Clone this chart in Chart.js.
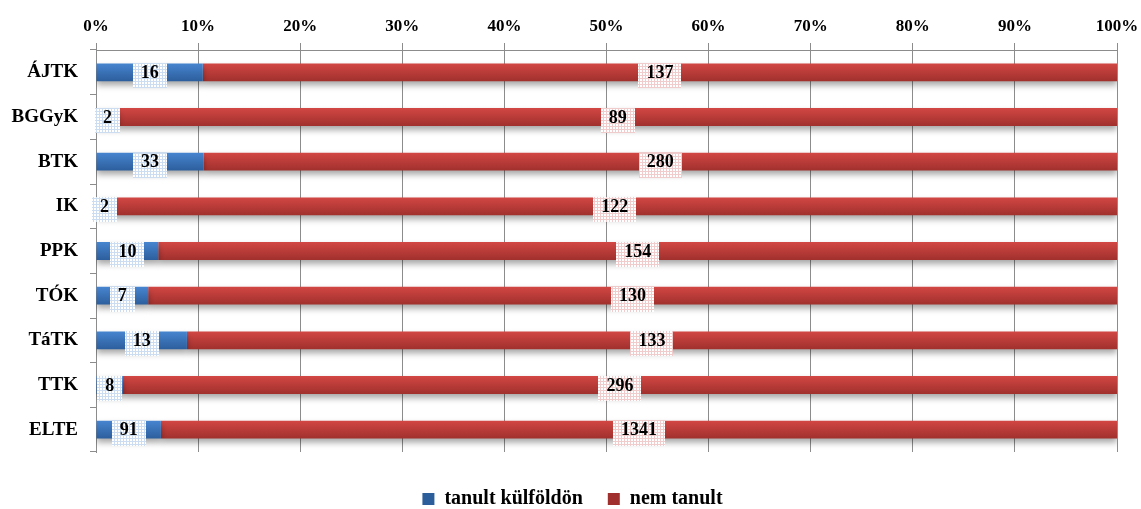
<!DOCTYPE html>
<html lang="hu">
<head>
    <meta charset="UTF-8">
    <title>Tanult külföldön</title>
    <style>
        body { margin: 0; background: #fff; }
        #wrap { width: 1141px; height: 509px; }
    </style>
</head>
<body>
    <div id="wrap"><canvas id="myCanvas"></canvas></div>
    <script src="https://cdn.jsdelivr.net/npm/chart.js@4/dist/chart.umd.min.js"></script>
    <script>
        const categories = ['ÁJTK', 'BGGyK', 'BTK', 'IK', 'PPK', 'TÓK', 'TáTK', 'TTK', 'ELTE'];
        const tanultKulfoldon = [16, 2, 33, 2, 10, 7, 13, 8, 91];
        const nemTanult = [137, 89, 280, 122, 154, 130, 133, 296, 1341];
        const seriesNames = ['tanult külföldön', 'nem tanult'];

        const FONT = '"Liberation Serif", "Times New Roman", serif';

        // share of each row, so the stacked bars fill 100%
        const totals = categories.map((c, i) => tanultKulfoldon[i] + nemTanult[i]);
        const pctKulf = tanultKulfoldon.map((v, i) => v / totals[i] * 100);
        const pctNem = nemTanult.map((v, i) => v / totals[i] * 100);

        function dotPattern(dot) {
            const c = document.createElement('canvas');
            c.width = 3; c.height = 3;
            const g = c.getContext('2d');
            g.fillStyle = '#ffffff';
            g.fillRect(0, 0, 3, 3);
            g.fillStyle = dot;
            g.fillRect(0, 0, 1, 3);
            g.fillRect(0, 0, 3, 1);
            return g.createPattern(c, 'repeat');
        }

        function barFill(top, bottom) {
            return function (context) {
                const chart = context.chart;
                const y = chart.scales && chart.scales.y;
                if (!y || context.dataIndex === undefined) return top;
                const cy = y.getPixelForValue(context.dataIndex);
                if (!isFinite(cy)) return top;
                const g = chart.ctx.createLinearGradient(0, cy - 9, 0, cy + 9);
                g.addColorStop(0, top);
                g.addColorStop(1, bottom);
                return g;
            };
        }

        const shadowAndLabels = {
            id: 'shadowAndLabels',
            afterLayout(chart) {
                // legend sits a bit lower and right of where chart.js puts it
                const lg = chart.legend;
                if (lg) { lg.top += 12; lg.bottom += 12; lg.left += 14; lg.right += 14; }
            },
            beforeDatasetsDraw(chart) {
                const ctx = chart.ctx;
                ctx.save();
                ctx.shadowColor = 'rgba(0,0,0,0.35)';
                ctx.shadowBlur = 6;
                ctx.shadowOffsetY = 4;
            },
            afterDatasetsDraw(chart) {
                const ctx = chart.ctx;
                ctx.restore();
                const pats = [dotPattern('#ccdcf1'), dotPattern('#f1cccc')];
                const raw = [tanultKulfoldon, nemTanult];
                ctx.save();
                ctx.font = 'bold 18px ' + FONT;
                ctx.textAlign = 'center';
                ctx.textBaseline = 'middle';
                chart.data.datasets.forEach((ds, di) => {
                    const meta = chart.getDatasetMeta(di);
                    meta.data.forEach((bar, i) => {
                        const txt = String(raw[di][i]);
                        const cx = (bar.x + bar.base) / 2;
                        const w = ctx.measureText(txt).width + 16;
                        ctx.fillStyle = pats[di];
                        ctx.fillRect(Math.round(cx - w / 2), Math.round(bar.y - 9), Math.round(w), 25);
                        ctx.fillStyle = '#000';
                        ctx.fillText(txt, cx, bar.y + 1);
                    });
                });
                ctx.restore();
            }
        };

        const ctx = document.getElementById('myCanvas').getContext('2d');
        const myChart = new Chart(ctx, {
            type: 'bar',
            data: {
                labels: categories,
                datasets: [{
                    label: seriesNames[0],
                    data: pctKulf,
                    backgroundColor: barFill('#4785d0', '#2c5e9c'),
                    categoryPercentage: 1,
                    barPercentage: 0.4
                }, {
                    label: seriesNames[1],
                    data: pctNem,
                    backgroundColor: barFill('#d24744', '#a0302d'),
                    categoryPercentage: 1,
                    barPercentage: 0.4
                }]
            },
            options: {
                indexAxis: 'y',
                responsive: true,
                maintainAspectRatio: false,
                animation: false,
                layout: { padding: { top: 0, right: 24, bottom: 2, left: 0 } },
                scales: {
                    x: {
                        position: 'top',
                        stacked: true,
                        min: 0,
                        max: 100,
                        ticks: {
                            stepSize: 10,
                            padding: 6,
                            color: '#000',
                            font: { family: FONT, size: 17, weight: 'bold' },
                            callback: v => v + '%'
                        },
                        grid: { color: '#8c8c8c', tickLength: 7 },
                        border: { color: '#8c8c8c' },
                        afterFit(scale) {
                            scale.height = 50;
                            scale.paddingLeft = 0;
                            scale.paddingRight = 0;
                        }
                    },
                    y: {
                        stacked: true,
                        ticks: {
                            padding: 12,
                            color: '#000',
                            font: { family: FONT, size: 19, weight: 'bold' }
                        },
                        grid: { drawOnChartArea: false, color: '#8c8c8c', tickLength: 6, offset: true },
                        border: { color: '#8c8c8c' },
                        afterFit(scale) { scale.width = 96; }
                    }
                },
                plugins: {
                    legend: {
                        position: 'bottom',
                        labels: {
                            color: '#000',
                            boxWidth: 12,
                            boxHeight: 12,
                            padding: 25,
                            font: { family: FONT, size: 20, weight: 'bold' }
                        }
                    },
                    tooltip: { enabled: false }
                }
            },
            plugins: [shadowAndLabels]
        });
    </script>
</body>
</html>
